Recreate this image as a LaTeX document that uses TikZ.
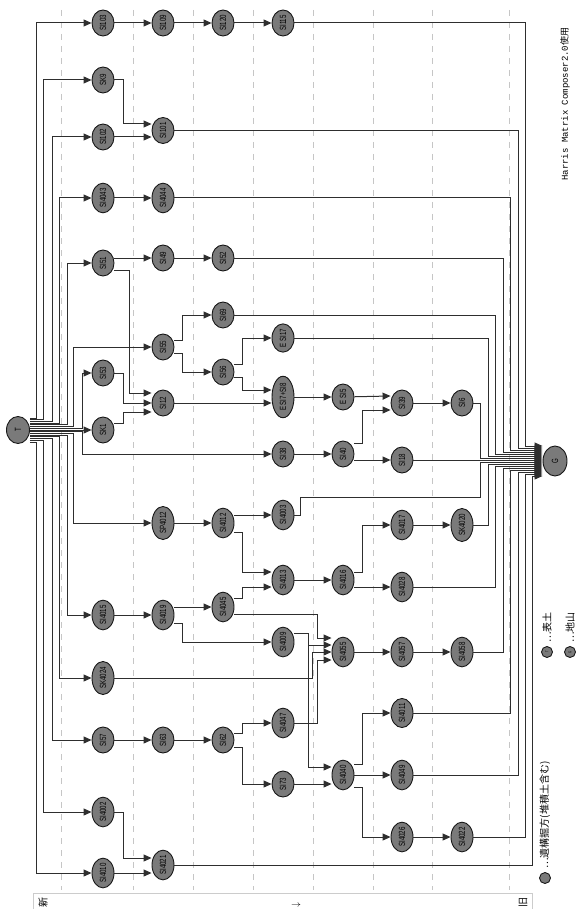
\documentclass[tikz,border=0pt]{standalone}
\usepackage{fontspec}
\setmainfont{Liberation Sans}
\newfontfamily\jpfont{Noto Sans CJK JP}
\newfontfamily\hmfont{Liberation Mono}
\usetikzlibrary{shapes.geometric, arrows.meta, positioning, calc}

\newcommand{\lbl}[1]{\rotatebox{90}{\scalebox{0.68}[1]{#1}}}

\begin{document}
\begin{tikzpicture}[
    x=1pt, y=-1pt,
    unit/.style={ellipse, draw=black!90, fill=black!52, line width=0.9pt, minimum width=22pt, minimum height=26pt, inner sep=0.8pt, font=\fontsize{9}{9}\selectfont},
    arrow/.style={->, >={Triangle[length=8pt, width=7pt]}, line width=1pt, black!82},
    phase/.style={gray!45, line width=0.8pt, dash pattern=on 6pt off 6pt},
    note/.style={rotate=90, inner sep=0pt, font=\jpfont\fontsize{10}{10}\selectfont}
]
\useasboundingbox (0,0) rectangle (577,909);

% phase lines
\foreach \x in {61,133,193,253,313,373,432,509}
    \draw[phase] (\x,10) -- (\x,890);

% top and bottom
\node[unit, minimum width=23pt, minimum height=27pt] (T) at (18,430) {\lbl{T}};
\node[unit, minimum width=24pt, minimum height=30pt] (G) at (555,461) {\lbl{G}};

% units
\node[unit] (SI103) at (103,23) {\lbl{SI103}};
\node[unit] (SI109) at (163,23) {\lbl{SI109}};
\node[unit] (SI120) at (223,23) {\lbl{SI120}};
\node[unit] (SI115) at (283,23) {\lbl{SI115}};
\node[unit] (SK9) at (103,80) {\lbl{SK9}};
\node[unit] (SI101) at (163,130.5) {\lbl{SI101}};
\node[unit] (SI102) at (103,137) {\lbl{SI102}};
\node[unit] (SI4043) at (103,198) {\lbl{SI4043}};
\node[unit] (SI4044) at (163,198) {\lbl{SI4044}};
\node[unit] (SI51) at (103,263) {\lbl{SI51}};
\node[unit] (SI49) at (163,258) {\lbl{SI49}};
\node[unit] (SI52) at (223,258) {\lbl{SI52}};
\node[unit] (SI55) at (163,347) {\lbl{SI55}};
\node[unit] (SI69) at (223,315) {\lbl{SI69}};
\node[unit] (SI56) at (223,372) {\lbl{SI56}};
\node[unit] (ESI17) at (283,338) {\lbl{E SI17}};
\node[unit] (SI53) at (103,373) {\lbl{SI53}};
\node[unit] (SI12) at (163,403) {\lbl{SI12}};
\node[unit] (ESI78) at (283,397) {\lbl{E SI7+SI8}};
\node[unit] (ESI5) at (343,397) {\lbl{E SI5}};
\node[unit] (SI39) at (402,403) {\lbl{SI39}};
\node[unit] (SI6) at (462,403) {\lbl{SI6}};
\node[unit] (SK1) at (103,430) {\lbl{SK1}};
\node[unit] (SI38) at (283,454) {\lbl{SI38}};
\node[unit] (SI40) at (343,454) {\lbl{SI40}};
\node[unit] (SI18) at (402,460) {\lbl{SI18}};
\node[unit] (SI4003) at (283,515) {\lbl{SI4003}};
\node[unit] (SP4012) at (163,523) {\lbl{SP4012}};
\node[unit] (SI4012) at (223,523) {\lbl{SI4012}};
\node[unit] (SI4017) at (402,525) {\lbl{SI4017}};
\node[unit] (SK4020) at (462,525) {\lbl{SK4020}};
\node[unit] (SI4013) at (283,580) {\lbl{SI4013}};
\node[unit] (SI4016) at (343,580) {\lbl{SI4016}};
\node[unit] (SI4028) at (402,587) {\lbl{SI4028}};
\node[unit] (SI4045) at (223,607) {\lbl{SI4045}};
\node[unit] (SI4015) at (103,615) {\lbl{SI4015}};
\node[unit] (SI4019) at (163,615) {\lbl{SI4019}};
\node[unit] (SI4009) at (283,642) {\lbl{SI4009}};
\node[unit] (SI4055) at (343,652) {\lbl{SI4055}};
\node[unit] (SI4057) at (402,652) {\lbl{SI4057}};
\node[unit] (SI4058) at (462,652) {\lbl{SI4058}};
\node[unit] (SK4024) at (103,678) {\lbl{SK4024}};
\node[unit] (SI4011) at (402,713) {\lbl{SI4011}};
\node[unit] (SI4047) at (283,723) {\lbl{SI4047}};
\node[unit] (SI57) at (103,740) {\lbl{SI57}};
\node[unit] (SI63) at (163,740) {\lbl{SI63}};
\node[unit] (SI62) at (223,740) {\lbl{SI62}};
\node[unit] (SI4040) at (343,775) {\lbl{SI4040}};
\node[unit] (SI4049) at (402,775) {\lbl{SI4049}};
\node[unit] (SI73) at (283,784) {\lbl{SI73}};
\node[unit] (SI4002) at (103,812) {\lbl{SI4002}};
\node[unit] (SI4026) at (402,837) {\lbl{SI4026}};
\node[unit] (SI4022) at (462,837) {\lbl{SI4022}};
\node[unit] (SI4021) at (163,865) {\lbl{SI4021}};
\node[unit] (SI4010) at (103,873) {\lbl{SI4010}};

% from T
\draw[arrow] ([yshift=12pt]T.east) -- ++(6.5,0) |- (SI103.west);
\draw[arrow] ([yshift=10.3pt]T.east) -- ++(13.5,0) |- (SK9.west);
\draw[arrow] ([yshift=8.6pt]T.east) -- ++(22.5,0) |- (SI102.west);
\draw[arrow] ([yshift=6.9pt]T.east) -- ++(29.5,0) |- (SI4043.west);
\draw[arrow] ([yshift=5.1pt]T.east) -- ++(37.5,0) |- (SI51.west);
\draw[arrow] ([yshift=3.4pt]T.east) -- ++(43.5,0) |- (SI55.west);
\draw[arrow] ([yshift=1.7pt]T.east) -- ++(52.5,0) |- (SI53.west);
\draw[arrow] (T.east) -- (SK1.west);
\draw[arrow] ([yshift=-1.7pt]T.east) -- ++(52.5,0) |- (SI38.west);
\draw[arrow] ([yshift=-3.4pt]T.east) -- ++(43.5,0) |- (SP4012.west);
\draw[arrow] ([yshift=-5.1pt]T.east) -- ++(37.5,0) |- (SI4015.west);
\draw[arrow] ([yshift=-6.9pt]T.east) -- ++(29.5,0) |- (SK4024.west);
\draw[arrow] ([yshift=-8.6pt]T.east) -- ++(22.5,0) |- (SI57.west);
\draw[arrow] ([yshift=-10.3pt]T.east) -- ++(13.5,0) |- (SI4002.west);
\draw[arrow] ([yshift=-12pt]T.east) -- ++(6.5,0) |- (SI4010.west);

% upper part
\draw[arrow] (SI103) -- (SI109);
\draw[arrow] (SI109) -- (SI120);
\draw[arrow] (SI120) -- (SI115);
\draw[arrow] (SK9.east) -- ++(9,0) |- ([yshift=6.5pt]SI101.west);
\draw[arrow] (SI102) -- ([yshift=-6.5pt]SI101.west);
\draw[arrow] (SI4043) -- (SI4044);
\draw[arrow] ([yshift=5pt]SI51.east) -- (SI49.west);
\draw[arrow] ([yshift=-7pt]SI51.east) -- ++(15,0) |- ([yshift=10pt]SI12.west);
\draw[arrow] (SI49) -- (SI52);
\draw[arrow] (SI53.east) -- ++(9,0) |- (SI12.west);
\draw[arrow] ([yshift=7pt]SK1.east) -- ++(9,0) |- ([yshift=-9pt]SI12.west);
\draw[arrow] ([yshift=7pt]SI55.east) -- ++(8,0) |- (SI69.west);
\draw[arrow] ([yshift=-6pt]SI55.east) -- ++(8,0) |- (SI56.west);
\draw[arrow] ([yshift=8pt]SI56.east) -- ++(8,0) |- (ESI17.west);
\draw[arrow] ([yshift=-5pt]SI56.east) -- ++(8,0) |- ([yshift=7pt]ESI78.west);
\draw[arrow] (SI12) -- ([yshift=-6pt]ESI78.west);
\draw[arrow] (ESI78) -- (ESI5);
\draw[arrow] (ESI5) -- ([yshift=7pt]SI39.west);
\draw[arrow] ([yshift=11pt]SI40.east) -- ++(8,0) |- ([yshift=-7pt]SI39.west);
\draw[arrow] (SI39) -- (SI6);
\draw[arrow] (SI38) -- (SI40);
\draw[arrow] ([yshift=-6pt]SI40.east) -- (SI18.west);

% lower part
\draw[arrow] (SP4012) -- (SI4012);
\draw[arrow] ([yshift=8pt]SI4012.east) -- (SI4003.west);
\draw[arrow] ([yshift=-9pt]SI4012.east) -- ++(8,0) |- ([yshift=8pt]SI4013.west);
\draw[arrow] ([yshift=9pt]SI4045.east) -- ++(8,0) |- ([yshift=-7pt]SI4013.west);
\draw[arrow] ([yshift=-7pt]SI4045.east) -- ++(83,0) |- ([yshift=14pt]SI4055.west);
\draw[arrow] (SI4013) -- (SI4016);
\draw[arrow] ([yshift=8pt]SI4016.east) -- ++(8,0) |- (SI4017.west);
\draw[arrow] ([yshift=-7pt]SI4016.east) -- (SI4028.west);
\draw[arrow] (SI4017) -- (SK4020);
\draw[arrow] (SI4015) -- (SI4019);
\draw[arrow] ([yshift=8pt]SI4019.east) -- (SI4045.west);
\draw[arrow] ([yshift=-8pt]SI4019.east) -- ++(8,0) |- (SI4009.west);
\draw[arrow] ([yshift=9pt]SI4009.east) -- ++(14,0) |- ([yshift=7pt]SI4055.west);
\draw[arrow] ([yshift=9pt]SI4009.east) -- ++(14,0) |- ([yshift=8pt]SI4040.west);
\draw[arrow] (SK4024.east) -- ++(198,0) |- (SI4055.west);
\draw[arrow] (SI4047.east) -- ++(23,0) |- ([yshift=-8pt]SI4055.west);
\draw[arrow] (SI4055) -- (SI4057);
\draw[arrow] (SI4057) -- (SI4058);
\draw[arrow] (SI57) -- (SI63);
\draw[arrow] (SI63) -- (SI62);
\draw[arrow] ([yshift=7pt]SI62.east) -- ++(8,0) |- (SI4047.west);
\draw[arrow] ([yshift=-7pt]SI62.east) -- ++(8,0) |- (SI73.west);
\draw[arrow] (SI73) -- ([yshift=-9pt]SI4040.west);
\draw[arrow] ([yshift=11pt]SI4040.east) -- ++(8,0) |- (SI4011.west);
\draw[arrow] (SI4040) -- (SI4049);
\draw[arrow] ([yshift=-12pt]SI4040.east) -- ++(8,0) |- (SI4026.west);
\draw[arrow] (SI4026) -- (SI4022);
\draw[arrow] (SI4002.east) -- ++(9,0) |- ([yshift=7pt]SI4021.west);
\draw[arrow] (SI4010) -- ([yshift=-8pt]SI4021.west);

% into G
\draw[arrow] (SI115.east) -- ++(231,0) |- ([yshift=15pt]G.west);
\draw[arrow] (SI101.east) -- ++(344,0) |- ([yshift=13pt]G.west);
\draw[arrow] (SI4044.east) -- ++(336,0) |- ([yshift=11pt]G.west);
\draw[arrow] (SI52.east) -- ++(269,0) |- ([yshift=9pt]G.west);
\draw[arrow] (SI69.east) -- ++(261,0) |- ([yshift=7pt]G.west);
\draw[arrow] (ESI17.east) -- ++(194,0) |- ([yshift=5pt]G.west);
\draw[arrow] (SI6.east) -- ++(7,0) |- ([yshift=3pt]G.west);
\draw[arrow] (SI18.east) -- ([yshift=1pt]G.west);
\draw[arrow] (SI4003.east) -- ++(6,0) -- ++(0,-18) -- ++(180,0) |- ([yshift=-1pt]G.west);
\draw[arrow] (SK4020.east) -- ++(15,0) |- ([yshift=-3pt]G.west);
\draw[arrow] (SI4028.east) -- ++(82,0) |- ([yshift=-5pt]G.west);
\draw[arrow] (SI4058.east) -- ++(30,0) |- ([yshift=-7pt]G.west);
\draw[arrow] (SI4011.east) -- ++(97,0) |- ([yshift=-9pt]G.west);
\draw[arrow] (SI4049.east) -- ++(105,0) |- ([yshift=-11pt]G.west);
\draw[arrow] (SI4022.east) -- ++(52,0) |- ([yshift=-13pt]G.west);
\draw[arrow] (SI4021.east) -- ++(358,0) |- ([yshift=-15pt]G.west);

% legend
\node[unit, minimum width=11pt, minimum height=11pt, inner sep=0pt] (keyPit) at (545,878) {};
\node[note, anchor=west] (keyPitTxt) at (545,869) {…遺構掘方(堆積土含む)};
\node[unit, minimum width=11pt, minimum height=11pt, inner sep=0pt, font=\fontsize{4}{4}\selectfont] (keyT) at (547,652) {\lbl{T}};
\node[note, anchor=west] (keyTTxt) at (547,643) {…表土};
\node[unit, minimum width=11pt, minimum height=11pt, inner sep=0pt, font=\fontsize{4}{4}\selectfont] (keyG) at (570,652) {\lbl{G}};
\node[note, anchor=west] (keyGTxt) at (570,643) {…地山};
\node[rotate=90, anchor=west, inner sep=0pt, font=\hmfont\fontsize{9}{9}\selectfont] (credit) at (565,181) {Harris Matrix Composer2.0{\jpfont 使用}};

% time bar
\draw[gray!40, line width=1pt] (33,912) -- (33,893) -- (532,893) -- (532,912);
\node[note] (newer) at (43,902) {新};
\node[rotate=90, inner sep=0pt] (dir) at (296,905) {$\downarrow$};
\node[note] (older) at (523,902) {旧};

\end{tikzpicture}
\end{document}
